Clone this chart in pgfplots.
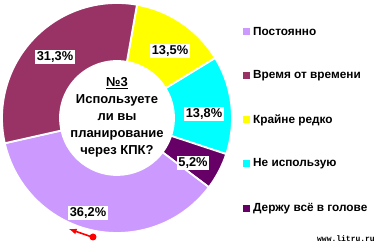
\documentclass[border=0pt]{standalone}
\usepackage{fontspec}
\setmainfont{Liberation Sans}
\newfontfamily\monofont{Liberation Mono}
\usepackage{pgfplots}
\pgfplotsset{compat=1.18}
\definecolor{cLav}{HTML}{CC99FF}
\definecolor{cMar}{HTML}{993366}
\definecolor{cYel}{HTML}{FFFF00}
\definecolor{cCya}{HTML}{00FFFF}
\definecolor{cPur}{HTML}{660066}
\begin{document}
\begin{tikzpicture}
\useasboundingbox (0,0) rectangle (378pt,245pt);
\begin{axis}[x=1pt,y=1pt,xmin=0,xmax=378,ymin=0,ymax=245,
  axis lines=none,scale only axis,clip=false,at={(0,0)},anchor=origin]
\addplot[draw=none] coordinates {(0,0) (378,245)};
% donut slices: value (percent) / colour, clockwise from 80 degrees
\pgfplotsextra{
  \xdef\cur{80}
  \foreach \v/\c in {13.5/cYel, 13.8/cCya, 5.2/cPur, 36.2/cLav, 31.3/cMar}{
    \pgfmathsetmacro\a{\cur}
    \pgfmathsetmacro\b{\cur-3.6*\v}
    \fill[\c,draw=white,line width=1.8pt,shift={(axis cs:117,127)}]
      (\a:115pt) arc[start angle=\a,end angle=\b,radius=115pt]
      -- (\b:57pt) arc[start angle=\b,end angle=\a,radius=57pt] -- cycle;
    \xdef\cur{\b}
  }
}
% value labels
\begin{scope}[every node/.style={fill=white,inner sep=1.8pt,font=\bfseries\fontsize{12.8}{14}\selectfont}]
\node at (axis cs:55,188) {31,3\%};
\node at (axis cs:170,194) {13,5\%};
\node at (axis cs:204,131) {13,8\%};
\node at (axis cs:193,82) {5,2\%};
\node at (axis cs:88,32) {36,2\%};
\end{scope}
% centre text
\node[align=center,font=\bfseries\fontsize{13}{17}\selectfont] at (axis cs:117,128)
  {\underline{№3}\\Используете\\ли вы\\планирование\\через КПК?};
% legend
\begin{scope}[every node/.style={anchor=west,inner sep=0pt,font=\bfseries\fontsize{11.8}{13}\selectfont}]
\fill[cLav] (axis cs:243,209.5) rectangle (axis cs:250,216.5);
\node at (axis cs:253,213) {Постоянно};
\fill[cMar] (axis cs:243,165.5) rectangle (axis cs:250,172.5);
\node at (axis cs:253,169) {Время от времени};
\fill[cYel] (axis cs:243,121.5) rectangle (axis cs:250,128.5);
\node at (axis cs:253,125) {Крайне редко};
\fill[cCya] (axis cs:243,77.5) rectangle (axis cs:250,84.5);
\node at (axis cs:253,81) {Не использую};
\fill[cPur] (axis cs:243,32.5) rectangle (axis cs:250,39.5);
\node at (axis cs:253,36) {Держу всё в голове};
\end{scope}
% watermark
\node[font=\monofont\bfseries\fontsize{8}{9}\selectfont,inner sep=0pt] at (axis cs:346,6) {www.litru.ru};
% red pointer
\draw[red,line width=1.6pt,-latex] (axis cs:92,8) -- (axis cs:69,16);
\fill[red] (axis cs:93,8) circle[radius=3.5pt];
\end{axis}
\end{tikzpicture}
\end{document}
